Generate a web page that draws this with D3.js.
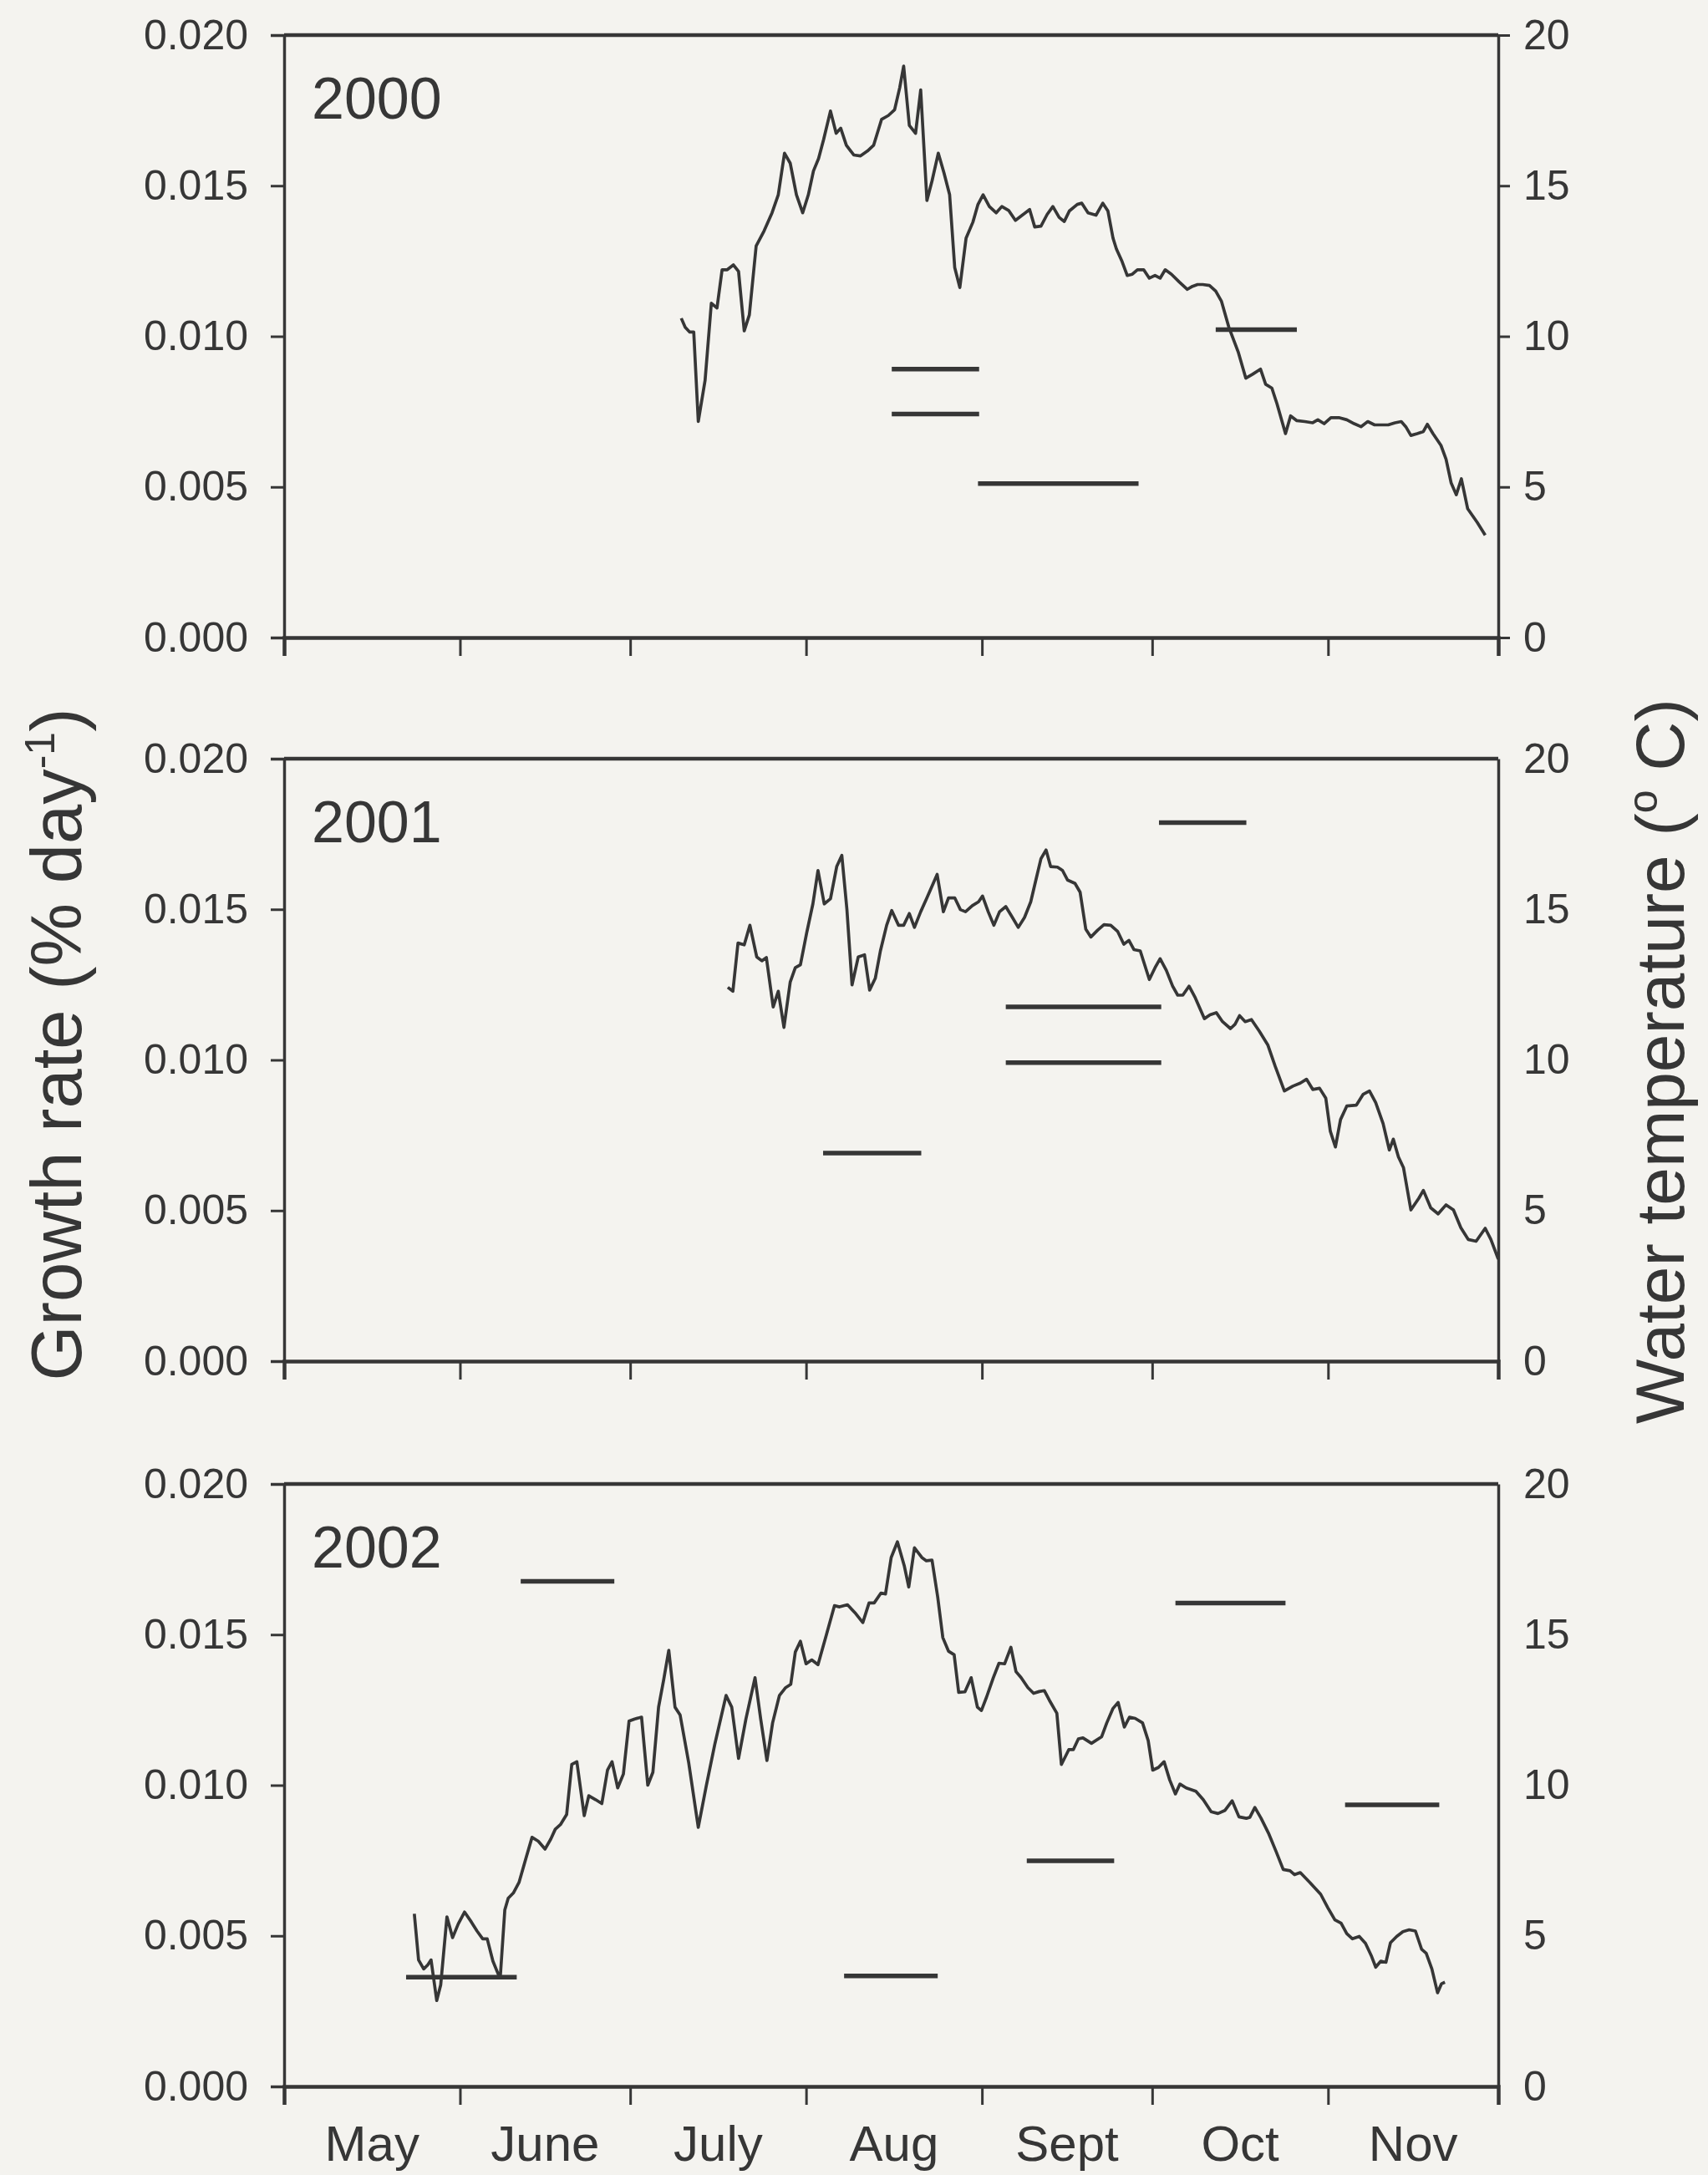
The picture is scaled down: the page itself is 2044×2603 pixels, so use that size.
<!DOCTYPE html>
<html>
<head>
<meta charset="utf-8">
<script src="https://cdn.jsdelivr.net/npm/d3@7"></script>
<style>
  html, body { margin: 0; padding: 0; background: #f4f3ef; }
  svg { display: block; }
  text { font-family: "Liberation Sans", Arial, sans-serif; fill: #363636; }
</style>
</head>
<body>
<div id="main"></div>
<script>
// ---- data (days counted from 1 May) ----
var months = ["May", "June", "July", "Aug", "Sept", "Oct", "Nov"];
var years = ["2000", "2001", "2002"];
var rateTicks = [0, 0.005, 0.010, 0.015, 0.020];
var tempTicks = [0, 5, 10, 15, 20];

var temp2000Day = [70, 70.7, 71.5, 72.2, 73, 74.2, 75.3, 76.3, 77.2, 78.1, 79.2, 80.1, 81.1, 82, 83.2, 84.6, 86, 87.1, 88.2, 89.2,
  90.3, 91.4, 92.4, 93.3, 94.2, 95.1, 96.3, 97.3, 98.1, 99.1, 100.4, 101.6, 102.8, 103.9, 105.3, 106.5, 107.6, 108.5, 109.2, 110.2,
  111.3, 112.2, 113.3, 114.2, 115.3, 116.3, 117.3, 118.2, 119.1, 120.2, 121.4, 122.3, 123.2, 124.3, 125.5, 126.5, 127.7, 128.9, 130.1, 131.4,
  132.3, 133.4, 134.5, 135.5, 136.6, 137.5, 138.4, 139.8, 140.6, 141.7, 143.1, 144.3, 145.2, 146.1, 146.7, 147.7, 148.6, 149.5, 150.4, 151.5,
  152.5, 153.5, 154.4, 155.3, 156.4, 157.8, 159.2, 160.1, 161, 161.9, 163.1, 164.2, 165.2, 166.5, 168.2, 169.5, 170.7, 172.1, 173, 174.1,
  175, 176.5, 177.4, 178.5, 179.9, 181.3, 182.2, 183.3, 184.5, 185.9, 187.3, 188.6, 189.8, 191, 192.2, 193.3, 194.6, 195.8, 196.9, 197.7,
  198.6, 199.7, 200.8, 201.5, 202.5, 203.9, 204.8, 205.7, 206.6, 207.5, 208.6, 210.3, 211.7];
var temp2000 = [10.6, 10.3, 10.14, 10.14, 7.17, 8.54, 11.1, 10.94, 12.21, 12.21, 12.37, 12.15, 10.18, 10.71, 13.0, 13.5, 14.1, 14.7, 16.08, 15.75,
  14.7, 14.1, 14.7, 15.49, 15.9, 16.54, 17.48, 16.74, 16.91, 16.34, 16.02, 15.99, 16.15, 16.34, 17.2, 17.33, 17.52, 18.25, 18.97, 17.0,
  16.74, 18.18, 14.51, 15.16, 16.08, 15.43, 14.7, 12.28, 11.62, 13.26, 13.79, 14.38, 14.7, 14.31, 14.1, 14.31, 14.18, 13.85, 14.02, 14.21,
  13.63, 13.66, 14.05, 14.31, 13.95, 13.81, 14.16, 14.38, 14.42, 14.1, 14.02, 14.42, 14.16, 13.26, 12.9, 12.48, 12.02, 12.06, 12.21, 12.21,
  11.93, 12.02, 11.93, 12.21, 12.06, 11.8, 11.56, 11.66, 11.72, 11.72, 11.69, 11.5, 11.17, 10.31, 9.46, 8.61, 8.74, 8.91, 8.41, 8.28,
  7.76, 6.77, 7.36, 7.2, 7.17, 7.13, 7.23, 7.1, 7.3, 7.3, 7.23, 7.1, 7.0, 7.17, 7.06, 7.06, 7.06, 7.13, 7.17, 7.0,
  6.71, 6.77, 6.84, 7.08, 6.77, 6.38, 5.92, 5.13, 4.74, 5.27, 4.28, 3.82, 3.4];

var temp2001Day = [78.2, 79.1, 80, 81.1, 82.1, 83.3, 84.2, 85, 86.2, 87.1, 88.1, 89.2, 90.1, 91, 92.1, 93.2, 94.1, 95.2, 96.3, 97.4,
  98.3, 99.2, 100.1, 101.2, 102.3, 103.2, 104.2, 105.1, 106.2, 107.1, 108.3, 109.2, 110.2, 111.1, 112.2, 113.3, 114.2, 115.1, 116.2, 117.1,
  118.2, 119.2, 120.1, 121.3, 122.4, 123.1, 124.1, 125.1, 126.1, 127.2, 128.3, 129.4, 130.5, 131.6, 132.5, 133.4, 134.3, 135.1, 136.3, 137.2,
  138.1, 139.4, 140.3, 141.3, 142.2, 143.4, 144.5, 145.7, 146.9, 148, 148.9, 149.8, 150.9, 152.5, 153.5, 154.4, 155.5, 156.6, 157.5, 158.4,
  159.5, 160.6, 162.2, 163.2, 164.3, 165.4, 166.8, 167.6, 168.4, 169.4, 170.5, 171.9, 173.4, 174.7, 176.3, 177.8, 179.1, 180.2, 181.3, 182.5,
  183.6, 184.4, 185.3, 186.2, 187.3, 189, 190.2, 191.3, 192.4, 193.7, 194.8, 195.5, 196.4, 197.3, 198.6, 200, 200.8, 202.1, 203.4, 204.8,
  206.1, 207.4, 208.7, 210.1, 211.7, 212.7, 214];
var temp2001 = [12.41, 12.28, 13.88, 13.82, 14.47, 13.42, 13.29, 13.4, 11.76, 12.28, 11.08, 12.58, 13.06, 13.16, 14.21, 15.18, 16.29, 15.18, 15.35, 16.42,
  16.79, 14.99, 12.49, 13.42, 13.49, 12.32, 12.71, 13.62, 14.47, 14.96, 14.47, 14.47, 14.86, 14.4, 14.92, 15.38, 15.77, 16.16, 14.92, 15.38,
  15.38, 14.99, 14.92, 15.12, 15.25, 15.44, 14.92, 14.47, 14.92, 15.09, 14.75, 14.4, 14.73, 15.25, 15.97, 16.68, 16.97, 16.42, 16.4, 16.29,
  15.97, 15.86, 15.57, 14.34, 14.08, 14.31, 14.49, 14.47, 14.27, 13.84, 13.97, 13.66, 13.62, 12.67, 13.06, 13.36, 12.97, 12.45, 12.15, 12.15,
  12.45, 12.06, 11.37, 11.5, 11.57, 11.27, 11.04, 11.18, 11.47, 11.27, 11.34, 10.95, 10.49, 9.78, 8.97, 9.13, 9.23, 9.36, 9.02, 9.06,
  8.73, 7.63, 7.11, 8.02, 8.47, 8.5, 8.86, 8.97, 8.58, 7.89, 7.01, 7.37, 6.78, 6.42, 5.02, 5.41, 5.67, 5.09, 4.89, 5.19,
  5.02, 4.43, 4.04, 3.98, 4.41, 4.04, 3.39];

var temp2002Day = [22.95, 23.7, 24.6, 25.3, 25.9, 26.9, 27.6, 28.7, 29.7, 30.7, 31.8, 33, 34, 35, 35.8, 36.8, 37.8, 38.1, 38.9, 39.5,
  40.4, 41.4, 42.6, 43.7, 44.8, 46, 47, 47.8, 48.7, 49.8, 50.7, 51.6, 52.9, 53.7, 54.9, 56, 57, 57.8, 58.8, 59.8,
  60.8, 61.8, 63, 64.1, 65, 66, 66.9, 67.8, 68.9, 69.8, 71.3, 73, 74.4, 75.9, 77.9, 78.9, 80.1, 81.4, 83, 84,
  85.1, 86.1, 87.3, 88.4, 89.3, 90.1, 91, 92, 93, 94.1, 95.6, 97, 97.9, 99.3, 100.6, 102, 103.1, 104, 105.2, 106,
  107, 108.1, 109.3, 110.1, 111.1, 112.4, 113.2, 114.2, 115.2, 116.1, 117.1, 118.1, 118.9, 120, 121.1, 122.2, 122.9, 123.8, 125, 126,
  127, 128.1, 129, 129.9, 131.1, 132.1, 133.1, 134, 135, 136.2, 137, 137.7, 138.3, 139.1, 140, 140.8, 142.3, 144.1, 145, 146.1,
  147, 148.1, 149, 150, 151.3, 152.3, 153.1, 154.1, 155.1, 156.1, 157.1, 157.9, 159, 160.7, 162, 163.4, 164.6, 165.8, 167.1, 168.3,
  169.6, 170.2, 171.1, 172.2, 173.5, 174.8, 176.1, 177.3, 178.1, 179.1, 180.8, 182.7, 184, 185.2, 186.3, 187.3, 188.3, 189.5, 190.6, 191.6,
  192.4, 193.3, 194.2, 195, 196.1, 197.2, 198.3, 199.4, 200.5, 201.3, 202.3, 203.3, 204, 204.6];
var temp2002 = [5.73, 4.2, 3.9, 4.03, 4.2, 2.85, 3.37, 5.63, 4.94, 5.4, 5.79, 5.46, 5.16, 4.9, 4.9, 4.16, 3.7, 3.63, 5.86, 6.25,
  6.42, 6.77, 7.56, 8.27, 8.14, 7.88, 8.21, 8.54, 8.69, 9.03, 10.69, 10.78, 8.99, 9.65, 9.52, 9.39, 10.5, 10.78, 9.91, 10.37,
  12.13, 12.2, 12.26, 10.0, 10.43, 12.59, 13.5, 14.48, 12.59, 12.33, 10.76, 8.6, 9.97, 11.35, 12.98, 12.59, 10.89, 12.2, 13.57, 12.2,
  10.82, 12.07, 12.98, 13.24, 13.35, 14.42, 14.78, 14.03, 14.16, 14.0, 15.01, 15.96, 15.92, 15.99, 15.73, 15.4, 16.05, 16.05, 16.38, 16.35,
  17.56, 18.08, 17.29, 16.58, 17.88, 17.56, 17.45, 17.47, 16.25, 14.9, 14.45, 14.33, 13.08, 13.1, 13.57, 12.59, 12.48, 12.92, 13.57, 14.05,
  14.03, 14.58, 13.77, 13.57, 13.24, 13.05, 13.11, 13.14, 12.78, 12.39, 10.69, 10.95, 11.18, 11.18, 11.54, 11.57, 11.39, 11.61, 12.07, 12.55,
  12.75, 11.93, 12.26, 12.22, 12.07, 11.48, 10.5, 10.59, 10.78, 10.17, 9.71, 10.04, 9.91, 9.8, 9.52, 9.12, 9.06, 9.16, 9.48, 8.95,
  8.9, 8.93, 9.26, 8.9, 8.41, 7.82, 7.2, 7.16, 7.03, 7.1, 6.77, 6.38, 5.92, 5.53, 5.42, 5.07, 4.9, 4.98, 4.75, 4.35,
  3.96, 4.16, 4.12, 4.77, 4.98, 5.14, 5.2, 5.16, 4.55, 4.42, 3.9, 3.11, 3.41, 3.46];

// growth rate over an interval: first day, last day, rate
var rate2000 = [[107.1, 122.5, 0.00891], [107.1, 122.5, 0.00742], [122.3, 150.6, 0.00511], [164.2, 178.5, 0.01022]];
var rate2001 = [[154.2, 169.6, 0.01788], [127.2, 154.6, 0.01176], [127.2, 154.6, 0.00991], [95.0, 112.3, 0.00691]];
var rate2002 = [[21.5, 41.0, 0.00363], [41.7, 58.2, 0.01677], [98.7, 115.2, 0.00367], [130.9, 146.3, 0.00749],
  [157.1, 176.5, 0.01605], [187.0, 203.6, 0.00935]];

// ---- layout ----
var width = 2044, height = 2603;
var left = 340, right = 1793;
var panelTops = [42, 908, 1776];
var panelH = 721;
var ink = "#363636";

var svg = d3.select("#main").append("svg")
  .attr("width", width).attr("height", height);
svg.append("rect").attr("width", width).attr("height", height).style("fill", "#f4f3ef");

var may1 = Date.UTC(2001, 4, 1);
function dayDate(d) { return new Date(may1 + d * 864e5); }
var x = d3.scaleUtc()
  .domain([new Date(may1), new Date(Date.UTC(2001, 11, 1))])
  .range([left, right]);

var panels = [
  {year: years[0], days: temp2000Day, temps: temp2000, rates: rate2000},
  {year: years[1], days: temp2001Day, temps: temp2001, rates: rate2001},
  {year: years[2], days: temp2002Day, temps: temp2002, rates: rate2002}
];

panels.forEach(function (p, i) {
  var top = panelTops[i], bottom = top + panelH;
  var yRate = d3.scaleLinear().domain([0, 0.02]).range([bottom, top]);
  var yTemp = d3.scaleLinear().domain([0, 20]).range([bottom, top]);
  var g = svg.append("g");

  // top frame line
  g.append("line")
    .attr("x1", left).attr("x2", right).attr("y1", top).attr("y2", top)
    .style("stroke", ink).style("stroke-width", 4.5);

  var ax = g.append("g").attr("transform", "translate(" + left + ",0)")
    .call(d3.axisLeft(yRate).tickValues(rateTicks).tickFormat(d3.format(".3f"))
      .tickSize(16).tickPadding(27));
  var ar = g.append("g").attr("transform", "translate(" + right + ",0)")
    .call(d3.axisRight(yTemp).tickValues(tempTicks)
      .tickSize(i === 0 ? 14 : 0).tickSizeOuter(0).tickPadding(i === 0 ? 16 : 30));
  var ab = g.append("g").attr("transform", "translate(0," + bottom + ")")
    .call(d3.axisBottom(x).ticks(d3.utcMonth.every(1)).tickFormat("").tickSize(22));

  [ax, ar, ab].forEach(function (a) {
    a.select(".domain").style("stroke", ink).style("stroke-width", 3.5);
    a.selectAll(".tick line").style("stroke", ink).style("stroke-width", 3);
    a.selectAll(".tick text").style("font-size", "50px").style("fill", ink)
      .style("font-family", "'Liberation Sans', Arial, sans-serif");
  });
  ab.select(".domain").style("stroke-width", 4.5);

  // water temperature
  var pts = p.days.map(function (d, k) { return [dayDate(d), p.temps[k]]; });
  g.append("path").datum(pts)
    .attr("d", d3.line().x(function (d) { return x(d[0]); }).y(function (d) { return yTemp(d[1]); }))
    .style("fill", "none").style("stroke", ink).style("stroke-width", 3.7)
    .style("stroke-linejoin", "round");

  // growth rate intervals
  g.selectAll(".rate").data(p.rates).enter().append("line")
    .attr("class", "rate")
    .attr("x1", function (d) { return x(dayDate(d[0])); })
    .attr("x2", function (d) { return x(dayDate(d[1])); })
    .attr("y1", function (d) { return yRate(d[2]); })
    .attr("y2", function (d) { return yRate(d[2]); })
    .style("stroke", ink).style("stroke-width", 5.5);

  g.append("text")
    .text(p.year)
    .attr("x", 373).attr("y", top + 100)
    .style("font-size", "70px");

  if (i === 2) {
    g.selectAll(".month").data(months).enter().append("text")
      .attr("class", "month")
      .text(function (d) { return d; })
      .attr("x", function (d, k) {
        var s = d3.utcMonth.offset(new Date(may1), k), e = d3.utcMonth.offset(s, 1);
        return x(new Date((+s + +e) / 2));
      })
      .attr("y", bottom + 89)
      .attr("text-anchor", "middle")
      .style("font-size", "60px");
  }
});

// axis titles
var lt = svg.append("text")
  .attr("transform", "translate(97,1250) rotate(-90)")
  .attr("text-anchor", "middle")
  .style("font-size", "85px");
lt.append("tspan").text("Growth rate (% day");
lt.append("tspan").text("-1").style("font-size", "50px").attr("dy", "-32");
lt.append("tspan").text(")").attr("dy", "32");

var rt = svg.append("text")
  .attr("transform", "translate(2015,1270) rotate(-90)")
  .attr("text-anchor", "middle")
  .style("font-size", "82px");
rt.append("tspan").text("Water temperature (");
rt.append("tspan").text("o").style("font-size", "50px").attr("dy", "-32");
rt.append("tspan").text(" C)").attr("dy", "32");
</script>
</body>
</html>
